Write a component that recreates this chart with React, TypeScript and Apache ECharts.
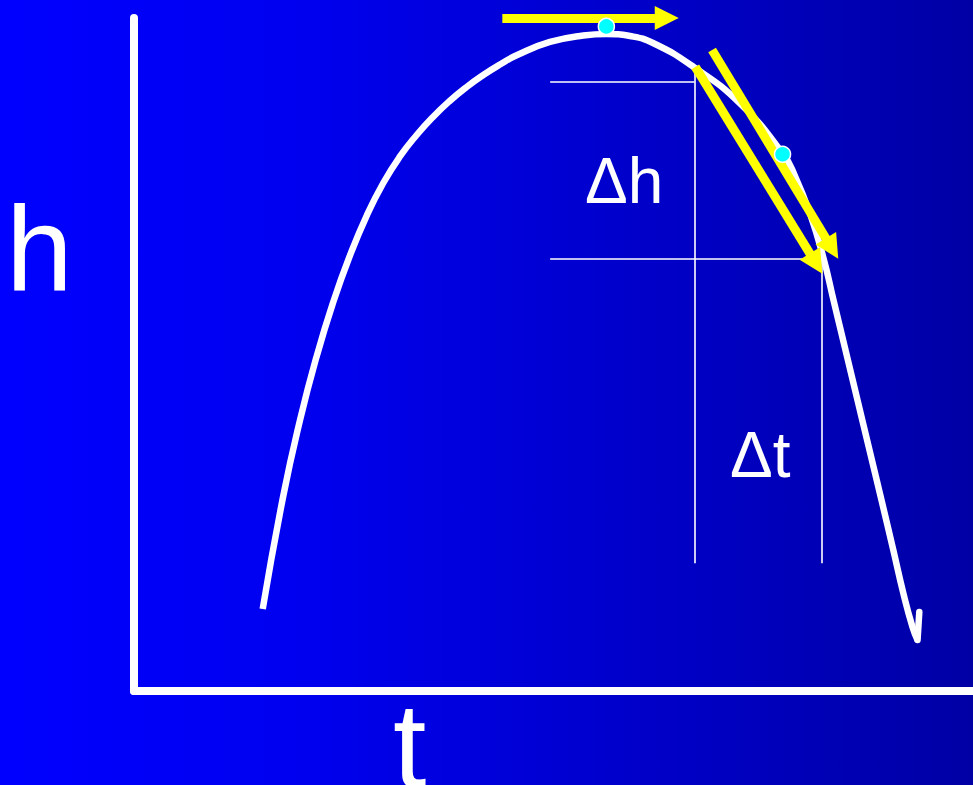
import React, { useEffect, useRef } from "react";
import * as echarts from "echarts";

// Axis ranges (t horizontal, h vertical), in arbitrary units
const tRange = [0, 10];
const hRange = [0, 8];

// The thrown-object height curve h(t)
const curve: [number, number][] = [
  [1.534, 0.975], [1.779, 2.318], [1.979, 3.221], [2.178, 3.982], [2.375, 4.624],
  [2.574, 5.177], [2.774, 5.652], [2.971, 6.039], [3.17, 6.354], [3.369, 6.609],
  [3.567, 6.827], [3.766, 7.016], [3.965, 7.18], [4.163, 7.322], [4.362, 7.447],
  [4.561, 7.557], [4.958, 7.715], [5.355, 7.792],
  [5.634, 7.81], [5.912, 7.786], [6.186, 7.703], [6.666, 7.421], [7.223, 6.984],
  [7.732, 6.389], [7.878, 6.122], [8.057, 5.676], [8.216, 5.153], [8.337, 4.648],
  [8.48, 4.054], [8.623, 3.459], [8.766, 2.865], [8.909, 2.27], [9.05, 1.676],
  [9.169, 1.165], [9.279, 0.761], [9.339, 0.606],
];
// small pen hook at the end of the hand-drawn curve
const curveHook: [number, number][] = [[9.339, 0.606], [9.36, 0.94]];

// Thin guide lines marking Δh and Δt
const guideLines: [number, number][][] = [
  [[4.96, 7.24], [6.68, 7.24]],
  [[4.96, 5.14], [8.2, 5.14]],
  [[6.68, 7.42], [6.68, 1.52]],
  [[8.2, 5.22], [8.2, 1.52]],
];

// Yellow arrows: tail -> head
const arrows: [number, number][][] = [
  [[4.39, 8.0], [6.35, 8.0]], // horizontal tangent at the top
  [[6.69, 7.42], [8.13, 5.08]], // secant
  [[6.89, 7.62], [8.32, 5.26]], // tangent
];

// Cyan tangent points
const dots: [number, number][] = [[5.63, 7.9], [7.73, 6.38]];

const axisLabels = { h: "h", t: "t" };
const deltaLabels = { dh: "Δh", dt: "Δt" };

const FONT = '"Liberation Sans", Arial, sans-serif';

export default function App() {
  const ref = useRef<HTMLDivElement>(null);
  useEffect(() => {
    document.body.style.margin = "0";
    const chart = echarts.init(ref.current!, null, { renderer: "svg" });
    const axisCommon = {
      type: "value" as const,
      axisLine: { show: true, lineStyle: { color: "#ffffff", width: 8 } },
      axisTick: { show: false },
      axisLabel: { show: false },
      splitLine: { show: false },
    };
    chart.setOption({
      animation: false,
      backgroundColor: {
        type: "linear",
        x: 0,
        y: 0,
        x2: 1,
        y2: 0,
        colorStops: [
          { offset: 0, color: "#0000FF" },
          { offset: 0.3, color: "#0000F0" },
          { offset: 1, color: "#0000A5" },
        ],
      },
      grid: { left: 134, top: 18, right: 0, bottom: 94, containLabel: false, outerBoundsMode: "none" },
      xAxis: { ...axisCommon, min: tRange[0], max: tRange[1] },
      yAxis: { ...axisCommon, min: hRange[0], max: hRange[1] },
      series: [
        {
          type: "lines",
          coordinateSystem: "cartesian2d",
          z: 1,
          clip: false,
          silent: true,
          symbol: ["none", "none"],
          lineStyle: { color: "#ffffff", width: 1.6, opacity: 1 },
          data: guideLines.map((c) => ({ coords: c })),
        },
        {
          type: "line",
          z: 2,
          data: curve,
          showSymbol: false,
          smooth: 0.5,
          clip: false,
          silent: true,
          lineStyle: { color: "#ffffff", width: 6.5, cap: "butt", join: "round" },
        },
        {
          type: "line",
          z: 2,
          data: curveHook,
          showSymbol: false,
          clip: false,
          silent: true,
          lineStyle: { color: "#ffffff", width: 6.5, cap: "round" },
        },
        {
          type: "lines",
          coordinateSystem: "cartesian2d",
          z: 3,
          clip: false,
          silent: true,
          symbol: ["none", "triangle"],
          symbolSize: 24,
          lineStyle: { color: "#FFFF00", width: 9, opacity: 1 },
          data: arrows.map((c) => ({ coords: c })),
        },
        {
          type: "scatter",
          z: 4,
          clip: false,
          silent: true,
          data: dots,
          symbolSize: 16,
          itemStyle: { color: "#00FFFF", borderColor: "#ffffff", borderWidth: 1.5, opacity: 1 },
        },
      ],
      graphic: [
        {
          type: "text",
          z: 10,
          x: 6,
          y: 248,
          style: { text: axisLabels.h, fill: "#ffffff", font: `120px ${FONT}`, align: "left", verticalAlign: "middle" },
        },
        {
          type: "text",
          z: 10,
          x: 393,
          y: 745,
          style: { text: axisLabels.t, fill: "#ffffff", font: `120px ${FONT}`, align: "left", verticalAlign: "middle" },
        },
        {
          type: "text",
          z: 10,
          x: 585,
          y: 181,
          style: { text: deltaLabels.dh, fill: "#ffffff", font: `64px ${FONT}`, align: "left", verticalAlign: "middle" },
        },
        {
          type: "text",
          z: 10,
          x: 730,
          y: 455,
          style: { text: deltaLabels.dt, fill: "#ffffff", font: `64px ${FONT}`, align: "left", verticalAlign: "middle" },
        },
      ],
    });
    return () => chart.dispose();
  }, []);
  return <div ref={ref} style={{ width: 973, height: 785 }} />;
}
